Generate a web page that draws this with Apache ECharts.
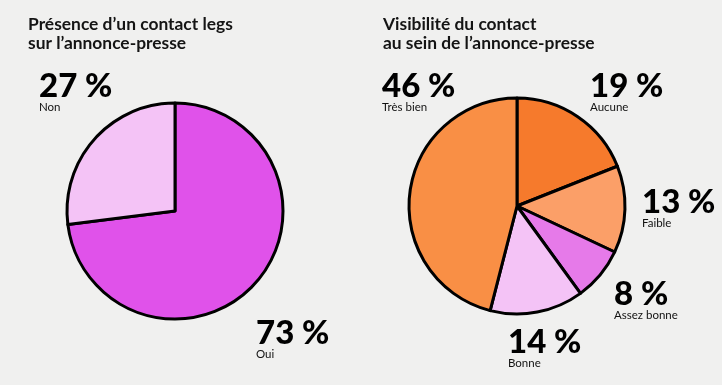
<!DOCTYPE html>
<html>
<head>
<meta charset="utf-8">
<script src="https://cdn.jsdelivr.net/npm/echarts@6/dist/echarts.min.js"></script>
<style>
html,body{margin:0;padding:0;background:#f0f0ef;}
#c{width:722px;height:385px;}
</style>
</head>
<body>
<div id="c"></div>
<script>
// Data
const titles = ["Présence d’un contact legs\nsur l’annonce-presse", "Visibilité du contact\nau sein de l’annonce-presse"];
const leftNames = ["Oui", "Non"];
const leftValues = [73, 27];
const rightNames = ["Aucune", "Faible", "Assez bonne", "Bonne", "Très bien"];
const rightValues = [19, 13, 8, 14, 46];

// Styles / layout (not data)
const leftColors = ["#e052ea", "#f4c3f6"];
const rightColors = ["#f67a2c", "#fb9f68", "#e67ae9", "#f4c3f6", "#f98f45"];
const labelPos = [
  [[256, 318], [39, 71]],
  [[590, 71], [642, 187], [614, 279], [508, 327], [382, 71]]
];

const chart = echarts.init(document.getElementById('c'), null, {renderer: 'canvas'});

function mk(names, values, colors) {
  return names.map((n, i) => ({name: n, value: values[i], itemStyle: {color: colors[i]}}));
}

const labelCfg = {
  show: true,
  position: 'outside',
  overflow: 'none',
  formatter: p => '{p|' + p.value + ' %}\n{n|' + p.name + '}',
  rich: {
    p: {fontFamily: 'Lato', fontWeight: 900, fontSize: 33, color: '#000', lineHeight: 30},
    n: {fontFamily: 'Lato', fontWeight: 'normal', fontSize: 11.5, color: '#111', lineHeight: 13}
  }
};

chart.setOption({
  backgroundColor: '#f0f0ef',
  animation: false,
  title: [
    {text: titles[0], left: 23, top: 10, textStyle: {fontFamily: 'Lato', fontWeight: 'bold', fontSize: 17.4, lineHeight: 19, color: '#141414'}},
    {text: titles[1], left: 378, top: 10, textStyle: {fontFamily: 'Lato', fontWeight: 'bold', fontSize: 17.4, lineHeight: 19, color: '#141414'}}
  ],
  series: [
    {
      type: 'pie', center: [175, 211], radius: [0, 108], startAngle: 90, clockwise: true,
      data: mk(leftNames, leftValues, leftColors),
      itemStyle: {borderColor: '#000', borderWidth: 3},
      label: labelCfg, labelLine: {show: false},
      emphasis: {disabled: true},
      labelLayout: p => ({x: labelPos[0][p.dataIndex][0], y: labelPos[0][p.dataIndex][1], align: 'left', verticalAlign: 'top'})
    },
    {
      type: 'pie', center: [517, 206], radius: [0, 108], startAngle: 90, clockwise: true,
      data: mk(rightNames, rightValues, rightColors),
      itemStyle: {borderColor: '#000', borderWidth: 3},
      label: labelCfg, labelLine: {show: false},
      emphasis: {disabled: true},
      labelLayout: p => ({x: labelPos[1][p.dataIndex][0], y: labelPos[1][p.dataIndex][1], align: 'left', verticalAlign: 'top'})
    }
  ]
});
</script>
</body>
</html>
